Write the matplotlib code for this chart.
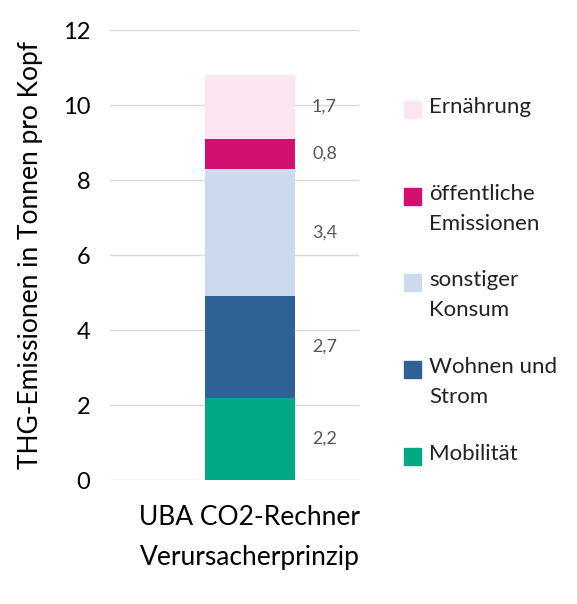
import matplotlib
matplotlib.use("Agg")
import matplotlib.pyplot as plt
from matplotlib.patches import Rectangle

categories = ["Mobilität", "Wohnen und\nStrom", "sonstiger\nKonsum", "öffentliche\nEmissionen", "Ernährung"]
values = [2.2, 2.7, 3.4, 0.8, 1.7]
labels = ["2,2", "2,7", "3,4", "0,8", "1,7"]
colors = ["#00a984", "#2f6096", "#cbdaed", "#d1106f", "#fce4f0"]
bar_name = "UBA CO2-Rechner\nVerursacherprinzip"

plt.rcParams["font.family"] = ["Lato", "DejaVu Sans"]
fig = plt.figure(figsize=(5.77, 6.04), dpi=100)
ax = fig.add_axes([0.19, 0.205, 0.433, 0.745])

x = 0.56
bottom = 0
for v, lab, c in zip(values, labels, colors):
    ax.bar(x, v, width=0.36, bottom=bottom, color=c, zorder=3)
    ax.text(0.86, bottom + v / 2, lab, ha="center", va="center", fontsize=13, color="#555555")
    bottom += v

ax.set_xlim(0, 1)
ax.set_ylim(0, 12)
ax.set_yticks(range(0, 13, 2))
ax.set_xticks([x])
ax.set_xticklabels([bar_name], fontsize=19, linespacing=1.75)
ax.tick_params(axis="both", length=0)
ax.tick_params(axis="x", pad=18)
ax.tick_params(axis="y", labelsize=17, pad=14)
ax.grid(axis="y", color="#d9d9d9", lw=1, zorder=0)
for s in ax.spines.values():
    s.set_visible(False)
ax.set_ylabel("THG-Emissionen in Tonnen pro Kopf", fontsize=19, labelpad=14)

# legend, top entry first
ys = [457, 370, 283, 197, 110]
for cat, c, y in zip(categories, colors, ys):
    fy = 1 - y / 604
    fig.patches.append(Rectangle((404 / 577, fy - 8 / 604), 17 / 577, 17 / 604,
                                 transform=fig.transFigure, color=c))
    fig.text(429 / 577, fy + 13 / 604, cat, fontsize=16, va="top", ha="left",
             linespacing=1.65, color="#222222", transform=fig.transFigure)

fig.savefig("out.png", dpi=100)
